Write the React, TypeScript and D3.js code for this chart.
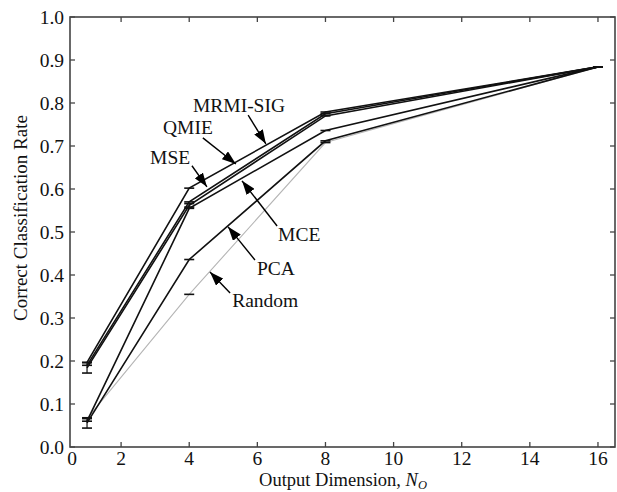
import React from "react";
import * as d3 from "d3";

const dims = [1, 4, 8, 16];
const seriesNames = ["MRMI-SIG", "QMIE", "MSE", "MCE", "PCA", "Random"];
const mrmiSig = [0.197, 0.602, 0.779, 0.884];
const qmie = [0.19, 0.57, 0.775, 0.884];
const mse = [0.184, 0.562, 0.77, 0.884];
const mce = [0.06, 0.555, 0.736, 0.884];
const pca = [0.056, 0.436, 0.712, 0.884];
const random = [0.066, 0.355, 0.708, 0.884];
const mseErr = [0.012, 0.004, 0, 0];
const pcaErr = [0.012, 0, 0, 0];
const zeroErr = [0, 0, 0, 0];
const xTicks = [2, 4, 6, 8, 10, 12, 14, 16];
const yTicks = [0, 0.1, 0.2, 0.3, 0.4, 0.5, 0.6, 0.7, 0.8, 0.9, 1.0];

// annotation: label, text anchor (x,y), arrow tail, arrow head (data units)
const annoLabels = ["MRMI-SIG", "QMIE", "MSE", "MCE", "PCA", "Random"];
const annoText = [[4.11, 0.779], [3.23, 0.728], [2.85, 0.658], [6.61, 0.479], [5.99, 0.4], [5.26, 0.326]];
const annoTail = [[5.73, 0.772], [4.4, 0.719], [4.08, 0.654], [6.58, 0.514], [5.93, 0.435], [5.2, 0.358]];
const annoHead = [[6.25, 0.705], [5.37, 0.658], [4.52, 0.605], [5.55, 0.619], [5.14, 0.512], [4.61, 0.407]];

const W = 617, H = 492;
const L = 70, R = 615, T = 17, B = 447;

export default function App() {
  const x = d3.scaleLinear().domain([0.5, 16.5]).range([L, R]);
  const y = d3.scaleLinear().domain([0, 1]).range([B, T]);
  const line = d3.line<number>().x((_, i) => x(dims[i])).y((d) => y(d));
  const font = "'Liberation Serif', 'Times New Roman', serif";

  const series = [
    { name: seriesNames[0], v: mrmiSig, e: zeroErr, c: "#111", w: 1.6 },
    { name: seriesNames[1], v: qmie, e: zeroErr, c: "#111", w: 1.6 },
    { name: seriesNames[2], v: mse, e: mseErr, c: "#111", w: 1.6 },
    { name: seriesNames[3], v: mce, e: zeroErr, c: "#111", w: 1.6 },
    { name: seriesNames[4], v: pca, e: pcaErr, c: "#111", w: 1.6 },
    { name: seriesNames[5], v: random, e: zeroErr, c: "#b5b5b5", w: 1.1 },
  ];

  const capW = 5;
  const fs = 19.5;

  return (
    <svg width={W} height={H} style={{ position: "absolute", left: 0, top: 0, background: "#fff" }} fontFamily={font}>
      <defs>
        <marker id="ah" viewBox="0 0 14 10" refX="14" refY="5" markerWidth="14" markerHeight="10" markerUnits="userSpaceOnUse" orient="auto">
          <path d="M0,0 L14,5 L0,10 z" fill="#000" />
        </marker>
      </defs>
      {/* series */}
      {series.slice().reverse().map((s) => (
        <g key={s.name}>
          <path d={line(s.v) || ""} fill="none" stroke={s.c} strokeWidth={s.w} />
          {s.v.map((v, i) => {
            const cx = x(dims[i]);
            const e = s.e[i];
            const capC = "#111";
            if (e > 0) {
              return (
                <g key={i}>
                  <line x1={cx} x2={cx} y1={y(v - e)} y2={y(v + e)} stroke={capC} strokeWidth={1.2} />
                  <line x1={cx - capW} x2={cx + capW} y1={y(v - e)} y2={y(v - e)} stroke={capC} strokeWidth={1.6} />
                  <line x1={cx - capW} x2={cx + capW} y1={y(v + e)} y2={y(v + e)} stroke={capC} strokeWidth={1.6} />
                </g>
              );
            }
            return <line key={i} x1={cx - capW} x2={cx + capW} y1={y(v)} y2={y(v)} stroke={capC} strokeWidth={1.6} />;
          })}
        </g>
      ))}
      {/* frame */}
      <rect x={L} y={T} width={R - L} height={B - T} fill="none" stroke="#444" strokeWidth={1.6} />
      {/* y ticks */}
      {yTicks.map((t) => (
        <g key={"y" + t}>
          <line x1={L} x2={L + 5} y1={y(t)} y2={y(t)} stroke="#444" strokeWidth={1.3} />
          <line x1={R - 5} x2={R} y1={y(t)} y2={y(t)} stroke="#444" strokeWidth={1.3} />
          <text x={L - 6} y={y(t) + 6.5} textAnchor="end" fontSize={fs} fill="#111">{t.toFixed(1)}</text>
        </g>
      ))}
      {/* x ticks */}
      {xTicks.map((t) => (
        <g key={"x" + t}>
          <line x1={x(t)} x2={x(t)} y1={B} y2={B - 5} stroke="#444" strokeWidth={1.3} />
          <line x1={x(t)} x2={x(t)} y1={T} y2={T + 5} stroke="#444" strokeWidth={1.3} />
          <text x={x(t)} y={B + 18} textAnchor="middle" fontSize={fs} fill="#111">{t}</text>
        </g>
      ))}
      <text x={x(0.5) + 2} y={B + 18} textAnchor="middle" fontSize={fs} fill="#111">0</text>
      {/* axis titles */}
      <text x={343} y={486} textAnchor="middle" fontSize={18.5} fill="#111">
        Output Dimension, <tspan fontStyle="italic">N</tspan>
        <tspan fontStyle="italic" fontSize={12.5} dy={2.5}>O</tspan>
      </text>
      <text transform={`translate(27,218) rotate(-90)`} textAnchor="middle" fontSize={19} fill="#111">
        Correct Classification Rate
      </text>
      {/* annotations */}
      {annoLabels.map((lab, i) => (
        <g key={lab}>
          <text x={x(annoText[i][0])} y={y(annoText[i][1])} fontSize={fs} fill="#111">{lab}</text>
          <line x1={x(annoTail[i][0])} y1={y(annoTail[i][1])} x2={x(annoHead[i][0])} y2={y(annoHead[i][1])} stroke="#000" strokeWidth={1.4} markerEnd="url(#ah)" />
        </g>
      ))}
    </svg>
  );
}
